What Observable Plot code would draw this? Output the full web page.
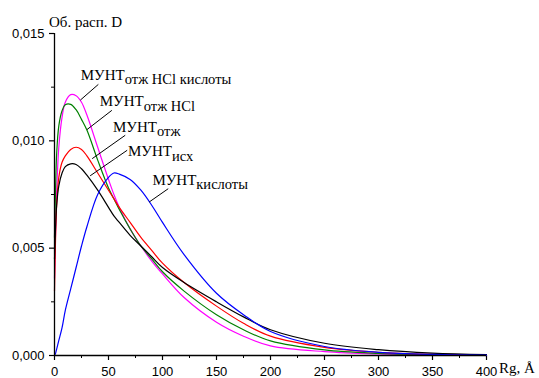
<!DOCTYPE html>
<html><head><meta charset="utf-8">
<script src="https://cdn.jsdelivr.net/npm/d3@7"></script>
<script src="https://cdn.jsdelivr.net/npm/@observablehq/plot@0.6"></script>
<style>body{margin:0;background:#fff} #chart svg{display:block}</style>
</head><body><div id="chart"></div>
<script>
// Shared x grid (Rg, Å)
const xs = [0, 1, 2, 4, 7, 10, 15, 20, 25, 30, 40, 50, 55, 60, 70, 80, 90, 100, 120, 150, 175, 200, 250, 300, 350, 400];
// Series values (Об. расп. D)
const yOtzhHClAcid = [0.0036, 0.0058, 0.0076, 0.0097, 0.0111, 0.0118, 0.01215, 0.0121, 0.0118, 0.0112, 0.0097, 0.0082, 0.0075, 0.0069, 0.0059, 0.0051, 0.0044, 0.0038, 0.0027, 0.00155, 0.0009, 0.00045, 0.00018, 0.00007, 0.00003, 0.00001];
const yOtzhHCl     = [0.0055, 0.0078, 0.0094, 0.0107, 0.0114, 0.01168, 0.0117, 0.01145, 0.0110, 0.0105, 0.0091, 0.0078, 0.0073, 0.0068, 0.0059, 0.0051, 0.0045, 0.0039, 0.0030, 0.0019, 0.0012, 0.00068, 0.00026, 0.0001, 0.00004, 0.00002];
const yOtzh        = [0.0030, 0.0055, 0.0070, 0.0083, 0.0090, 0.0093, 0.0096, 0.0097, 0.0096, 0.0093, 0.0085, 0.0077, 0.0073, 0.0069, 0.0062, 0.0055, 0.0049, 0.0043, 0.0034, 0.0023, 0.0015, 0.0009, 0.00038, 0.00015, 0.00006, 0.00003];
const yIsh         = [0.0045, 0.0060, 0.0070, 0.0079, 0.0085, 0.0088, 0.00893, 0.0089, 0.0087, 0.0084, 0.0077, 0.0069, 0.0065, 0.0062, 0.0056, 0.0051, 0.0046, 0.0041, 0.0034, 0.0025, 0.0018, 0.0012, 0.00057, 0.00027, 0.00011, 0.00004];
const yAcid        = [0.0000, 0.0001, 0.0003, 0.0007, 0.0013, 0.0021, 0.0031, 0.0041, 0.0051, 0.0060, 0.0075, 0.0083, 0.0085, 0.00845, 0.0082, 0.0077, 0.0070, 0.0062, 0.0047, 0.0029, 0.0019, 0.00112, 0.00042, 0.00015, 0.00005, 0.00002];

const seriesValues = [yOtzhHClAcid, yOtzhHCl, yOtzh, yIsh, yAcid];
const seriesColors = ["#ff00ff", "#008000", "#ff0000", "#000000", "#0000ff"];

// Ticks
const xTicks = [0, 50, 100, 150, 200, 250, 300, 350, 400];
const xTickLabels = ["0", "50", "100", "150", "200", "250", "300", "350", "400"];
const xMinorTicks = [25, 75, 125, 175, 225, 275, 325, 375];
const yTicks = [0, 0.005, 0.010, 0.015];
const yTickLabels = ["0,000", "0,005", "0,010", "0,015"];
const yMinorTicks = [0.0025, 0.0075, 0.0125];

// Titles
const xTitle = "Rg, Å";
const yTitle = "Об. расп. D";

// Curve labels (main text + subscript) and their anchors in data units
const labelMain = ["МУНТ", "МУНТ", "МУНТ", "МУНТ", "МУНТ"];
const labelSub = ["отж HCl кислоты", "отж HCl", "отж", "исх", "кислоты"];
const labelX = [24.7, 42.3, 54.6, 68.5, 91.1];
const labelY = [0.01282, 0.01159, 0.01041, 0.00925, 0.00793];
// Leader lines
const leaderX1 = [40.6, 53.1, 65.5, 67.3, 105.3];
const leaderY1 = [0.01263, 0.01142, 0.01026, 0.00956, 0.00777];
const leaderX2 = [24.0, 30.0, 34.9, 33.0, 87.7];
const leaderY2 = [0.0119, 0.01052, 0.00917, 0.00837, 0.00715];

const leaders = leaderX1.map((x1, i) => ({x1, y1: leaderY1[i], x2: leaderX2[i], y2: leaderY2[i]}));

const lineMarks = seriesValues.map((ys, i) =>
  Plot.line(xs.map((x, j) => ({x, y: ys[j]})), {x: "x", y: "y", stroke: seriesColors[i], strokeWidth: 1.2, curve: "catmull-rom"})
);

const plot = Plot.plot({
  width: 539, height: 378,
  marginLeft: 54, marginRight: 53, marginTop: 33, marginBottom: 23,
  style: {fontFamily: "'Liberation Sans', Arial, sans-serif", fontSize: "13px", color: "#000", background: "#fff", overflow: "visible"},
  x: {domain: [0, 400]},
  y: {domain: [0, 0.015]},
  marks: [
    Plot.axisX({ticks: xTicks, tickSize: 5, tickPadding: 6, label: null, tickFormat: d => xTickLabels[xTicks.indexOf(d)], stroke: "#000", strokeWidth: 1.2}),
    Plot.axisX({ticks: xMinorTicks, tickSize: 3, label: null, tickFormat: () => "", stroke: "#000"}),
    Plot.axisY({ticks: yTicks, tickSize: 5, tickPadding: 5, label: null, tickFormat: d => yTickLabels[yTicks.indexOf(d)], stroke: "#000", strokeWidth: 1.2}),
    Plot.axisY({ticks: yMinorTicks, tickSize: 3, label: null, tickFormat: () => "", stroke: "#000"}),
    ...lineMarks,
    Plot.link(leaders, {x1: "x1", y1: "y1", x2: "x2", y2: "y2", stroke: "#000", strokeWidth: 1}),
    Plot.ruleX([0], {stroke: "#000", strokeWidth: 1.3}),
    Plot.ruleY([0], {stroke: "#000", strokeWidth: 1.3})
  ]
});

const sx = plot.scale("x"), sy = plot.scale("y");
const svg = d3.select(plot);
const serif = "'Liberation Serif', 'Times New Roman', serif";
labelMain.forEach((m, i) => {
  const t = svg.append("text")
    .attr("x", sx.apply(labelX[i])).attr("y", sy.apply(labelY[i]))
    .attr("text-anchor", "start")
    .attr("font-family", serif).attr("font-size", 15).attr("fill", "#000");
  t.append("tspan").text(m);
  t.append("tspan").attr("dy", 4.5).attr("font-size", 14.5).text(labelSub[i]);
});
svg.append("text")
  .attr("x", sx.apply(0) - 5).attr("y", sy.apply(0.015) - 6.5)
  .attr("text-anchor", "start")
  .attr("font-family", serif).attr("font-size", 15).attr("fill", "#000")
  .text(yTitle);
svg.append("text")
  .attr("x", sx.apply(400) + 13).attr("y", sy.apply(0) + 18)
  .attr("text-anchor", "start")
  .attr("font-family", serif).attr("font-size", 15).attr("fill", "#000")
  .text(xTitle);

document.getElementById("chart").appendChild(plot);
</script>
</body></html>
